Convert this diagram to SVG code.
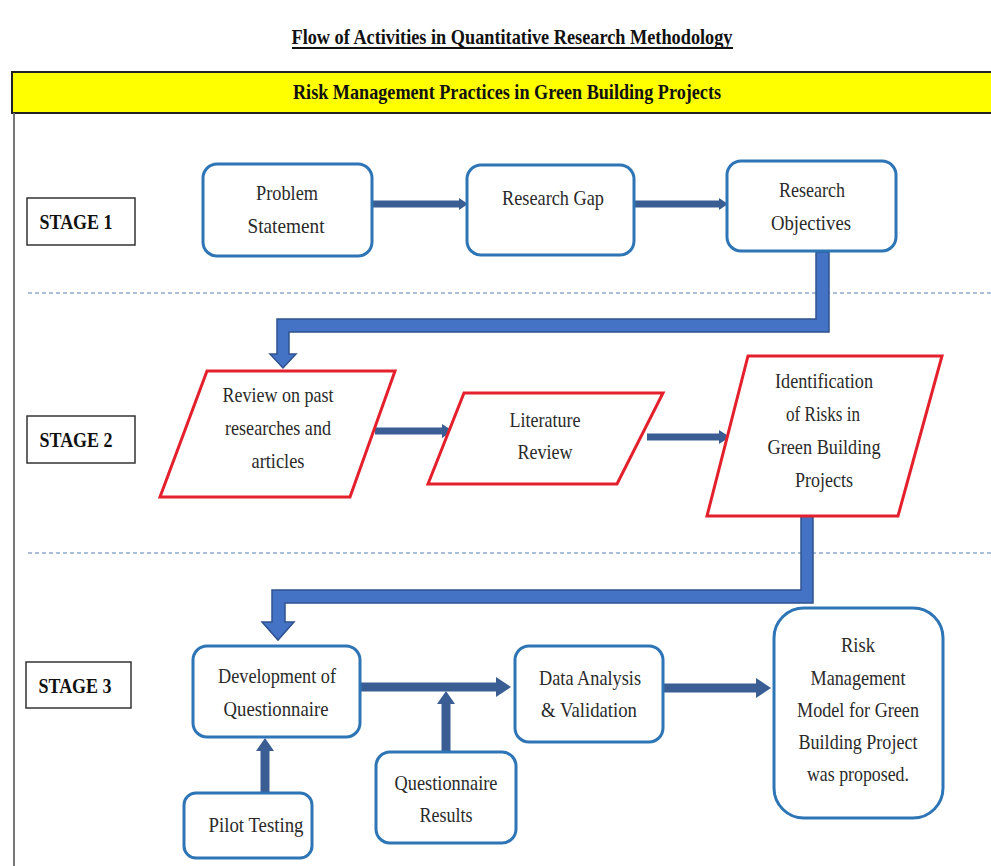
<svg xmlns="http://www.w3.org/2000/svg" width="991" height="866" viewBox="0 0 991 866">
<style>
.t{font-family:"Liberation Serif","Times New Roman",serif;font-size:21px;fill:#2a2a2a;text-anchor:middle}
.b{font-weight:bold;fill:#111}
.box{fill:#fff;stroke:#2E75B6;stroke-width:3}
.para{fill:#fff;stroke:#E3202B;stroke-width:3;stroke-linejoin:miter}
.stage{fill:#fff;stroke:#333;stroke-width:1.5}
.dash{stroke:#8FA9CB;stroke-width:1.5;stroke-dasharray:4 3}
.shaft{stroke:#3A5E93;fill:none}
.head{fill:#3A5E93}
.bent{fill:#4472C4;stroke:#2F528F;stroke-width:1.5}
</style>
<rect x="0" y="0" width="991" height="866" fill="#fff"/>
<text class="t b" x="512" y="44" textLength="441" lengthAdjust="spacingAndGlyphs">Flow of Activities in Quantitative Research Methodology</text>
<line x1="292" y1="48" x2="733" y2="48" stroke="#111" stroke-width="2"/>
<rect x="12" y="72" width="990" height="41" fill="#FFFF00" stroke="#222" stroke-width="2"/>
<text class="t b" x="507" y="99" textLength="428" lengthAdjust="spacingAndGlyphs">Risk Management Practices in Green Building Projects</text>
<line x1="14" y1="113" x2="14" y2="866" stroke="#777" stroke-width="2"/>
<line class="dash" x1="28" y1="293" x2="991" y2="293"/>
<line class="dash" x1="28" y1="553" x2="991" y2="553"/>

<g id="stage1"><rect class="stage" x="27" y="198" width="108" height="47"/><text class="t b" x="76" y="229" textLength="73" lengthAdjust="spacingAndGlyphs">STAGE 1</text></g>
<g id="stage2"><rect class="stage" x="27" y="416" width="108" height="47"/><text class="t b" x="76" y="447" textLength="73" lengthAdjust="spacingAndGlyphs">STAGE 2</text></g>
<g id="stage3"><rect class="stage" x="26" y="662" width="105" height="46"/><text class="t b" x="75" y="693" textLength="73" lengthAdjust="spacingAndGlyphs">STAGE 3</text></g>

<g id="connectors">
<line class="shaft" x1="372" y1="204" x2="461" y2="204" stroke-width="7"/>
<polygon class="head" points="459,198 468,204 459,210"/>
<line class="shaft" x1="634" y1="204" x2="721" y2="204" stroke-width="7"/>
<polygon class="head" points="719,198 728,204 719,210"/>
<polygon class="bent" points="816,252 829,252 829,332 289,332 289,354 296,354 283,368 270,354 277,354 277,319 816,319"/>
<line class="shaft" x1="375" y1="431" x2="444" y2="431" stroke-width="7"/>
<polygon class="head" points="442,424 453,431 442,438"/>
<line class="shaft" x1="647" y1="437" x2="721" y2="437" stroke-width="7"/>
<polygon class="head" points="719,430 730,437 719,444"/>
<polygon class="bent" points="801,515 813,515 813,603 285,603 285,622 294,622 278,640 262,622 272,622 272,590 801,590"/>
<line class="shaft" x1="360" y1="687" x2="498" y2="687" stroke-width="9"/>
<polygon class="head" points="496,677 511,687 496,697"/>
<line class="shaft" x1="663" y1="688" x2="758" y2="688" stroke-width="9"/>
<polygon class="head" points="756,678 771,688 756,698"/>
<line class="shaft" x1="265" y1="793" x2="265" y2="749" stroke-width="9"/>
<polygon class="head" points="256,751 265,738 274,751"/>
<line class="shaft" x1="446" y1="752" x2="446" y2="702" stroke-width="9"/>
<polygon class="head" points="437,704 446,691 455,704"/>
</g>

<g id="problem"><rect class="box" x="203" y="164" width="169" height="92" rx="14"/>
<text class="t" x="287" y="200" textLength="62" lengthAdjust="spacingAndGlyphs">Problem</text>
<text class="t" x="286" y="233" textLength="77" lengthAdjust="spacingAndGlyphs">Statement</text></g>
<g id="gap"><rect class="box" x="467" y="165" width="167" height="90" rx="14"/>
<text class="t" x="553" y="205" textLength="102" lengthAdjust="spacingAndGlyphs">Research Gap</text></g>
<g id="objectives"><rect class="box" x="727" y="161" width="169" height="90" rx="14"/>
<text class="t" x="812" y="197" textLength="66" lengthAdjust="spacingAndGlyphs">Research</text>
<text class="t" x="811" y="230" textLength="80" lengthAdjust="spacingAndGlyphs">Objectives</text></g>

<g id="review"><polygon class="para" points="207,371 395,371 350,497 160,497"/>
<text class="t" x="278" y="402" textLength="111" lengthAdjust="spacingAndGlyphs">Review on past</text>
<text class="t" x="278" y="435" textLength="106" lengthAdjust="spacingAndGlyphs">researches and</text>
<text class="t" x="278" y="468" textLength="53" lengthAdjust="spacingAndGlyphs">articles</text></g>
<g id="literature"><polygon class="para" points="464,393 663,393 617,484 428,484"/>
<text class="t" x="545" y="427" textLength="71" lengthAdjust="spacingAndGlyphs">Literature</text>
<text class="t" x="545" y="459" textLength="55" lengthAdjust="spacingAndGlyphs">Review</text></g>
<g id="identification"><polygon class="para" points="748,356 942,356 898,516 707,516"/>
<text class="t" x="824" y="388" textLength="98" lengthAdjust="spacingAndGlyphs">Identification</text>
<text class="t" x="823" y="421" textLength="74" lengthAdjust="spacingAndGlyphs">of Risks in</text>
<text class="t" x="824" y="454" textLength="113" lengthAdjust="spacingAndGlyphs">Green Building</text>
<text class="t" x="824" y="487" textLength="58" lengthAdjust="spacingAndGlyphs">Projects</text></g>

<g id="development"><rect class="box" x="193" y="646" width="167" height="91" rx="14"/>
<text class="t" x="277" y="683" textLength="118" lengthAdjust="spacingAndGlyphs">Development of</text>
<text class="t" x="276" y="716" textLength="105" lengthAdjust="spacingAndGlyphs">Questionnaire</text></g>
<g id="analysis"><rect class="box" x="515" y="646" width="148" height="96" rx="14"/>
<text class="t" x="590" y="685" textLength="102" lengthAdjust="spacingAndGlyphs">Data Analysis</text>
<text class="t" x="589" y="717" textLength="96" lengthAdjust="spacingAndGlyphs">&amp; Validation</text></g>
<g id="model"><rect class="box" x="774" y="608" width="169" height="210" rx="30"/>
<text class="t" x="858" y="652" textLength="34" lengthAdjust="spacingAndGlyphs">Risk</text>
<text class="t" x="858" y="685" textLength="95" lengthAdjust="spacingAndGlyphs">Management</text>
<text class="t" x="858" y="717" textLength="122" lengthAdjust="spacingAndGlyphs">Model for Green</text>
<text class="t" x="858" y="749" textLength="119" lengthAdjust="spacingAndGlyphs">Building Project</text>
<text class="t" x="858" y="781" textLength="102" lengthAdjust="spacingAndGlyphs">was proposed.</text></g>
<g id="pilot"><rect class="box" x="184" y="793" width="128" height="65" rx="12"/>
<text class="t" x="256" y="832" textLength="95" lengthAdjust="spacingAndGlyphs">Pilot Testing</text></g>
<g id="results"><rect class="box" x="376" y="752" width="140" height="91" rx="14"/>
<text class="t" x="446" y="790" textLength="103" lengthAdjust="spacingAndGlyphs">Questionnaire</text>
<text class="t" x="446" y="822" textLength="53" lengthAdjust="spacingAndGlyphs">Results</text></g>
</svg>
